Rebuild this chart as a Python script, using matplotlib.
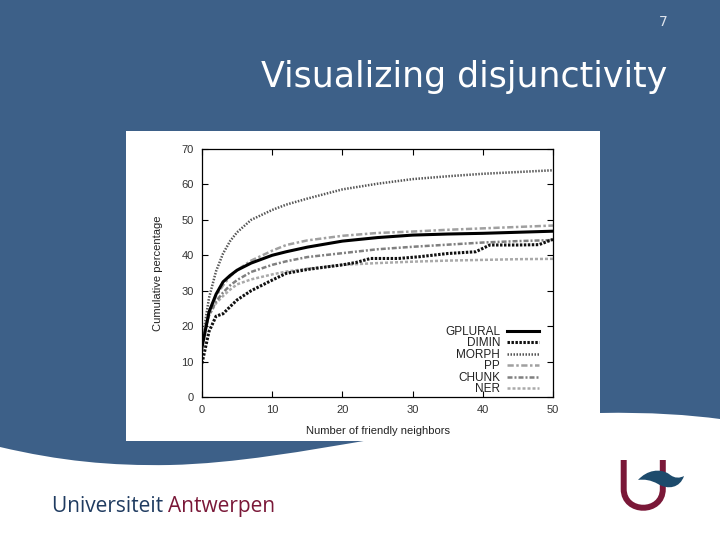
import numpy as np
import matplotlib

matplotlib.use("Agg")
import matplotlib.pyplot as plt
from matplotlib.path import Path
from matplotlib.patches import PathPatch, Rectangle

# ---- data ----
X = [0, 1, 2, 3, 4, 5, 7, 10, 12, 15, 20, 25, 30, 35, 40, 45, 50]
GPLURAL = [14, 24, 29, 32.5, 34.3, 35.8, 37.8, 40, 41, 42.3, 44, 45, 45.7, 46, 46.2, 46.5, 46.8]
MORPH = [15.5, 28, 35.5, 40.5, 44, 46.5, 50, 52.8, 54.3, 56, 58.6, 60.2, 61.5, 62.3, 63, 63.5, 64]
PP = [16, 24, 28.5, 31.5, 34, 35.8, 38.5, 41.3, 42.9, 44.2, 45.5, 46.3, 46.7, 47.2, 47.6, 48, 48.4]
CHUNK = [16, 23, 27, 29.5, 31.5, 33, 35.3, 37.3, 38.3, 39.5, 40.6, 41.7, 42.4, 43, 43.6, 44, 44.3]
NER = [17, 23, 26.5, 28.5, 30.3, 31.8, 33.2, 34.6, 35.4, 36.2, 37.3, 37.8, 38.2, 38.5, 38.7, 38.9, 39.0]
DIMIN_X = [0, 1, 2, 3, 4, 5, 7, 10, 12, 15, 20, 22, 24, 28, 31, 35, 39, 41, 45, 48, 50]
DIMIN = [9.5, 18.5, 22.8, 23.5, 25.5, 27.4, 30, 33, 34.9, 36, 37.3, 38, 39.1, 39.1, 39.6, 40.5, 41, 42.9, 42.9, 43, 44.5]

X_TICKS = [0, 10, 20, 30, 40, 50]
Y_TICKS = [0, 10, 20, 30, 40, 50, 60, 70]

SLIDE_BLUE = "#3d6088"
MAROON = "#7a1838"
NAVY = "#1f3b60"

fig = plt.figure(figsize=(7.2, 5.4), dpi=100)
fig.patch.set_facecolor(SLIDE_BLUE)

# background layer in pixel coords (y downward)
bg = fig.add_axes([0, 0, 1, 1])
bg.set_xlim(0, 720)
bg.set_ylim(540, 0)
bg.axis("off")

# white lower part under the blue swoosh
verts = [
    (0, 447), (60, 461), (110, 466), (170, 465),
    (300, 462), (450, 415), (600, 413),
    (650, 412), (690, 415), (720, 419),
    (720, 540), (0, 540), (0, 447),
]
codes = [Path.MOVETO] + [Path.CURVE4] * 9 + [Path.LINETO, Path.LINETO, Path.CLOSEPOLY]
bg.add_patch(PathPatch(Path(verts, codes), facecolor="white", edgecolor="none"))

# white box holding the chart
bg.add_patch(Rectangle((126, 131), 474, 310, facecolor="white", edgecolor="none"))

bg.text(667, 77, "Visualizing disjunctivity", color="white", fontsize=25,
        family="DejaVu Sans", ha="right", va="center")
bg.text(668, 22, "7", color="#dde3ec", fontsize=10, ha="right", va="center")

# footer
t1 = bg.text(52, 512, "Universiteit ", color=NAVY, fontsize=15, family="Open Sans",
             ha="left", va="baseline")
fig.canvas.draw()
bb = t1.get_window_extent()
bg.text(52 + bb.width, 512, "Antwerpen", color=MAROON, fontsize=15, family="Open Sans",
        ha="left", va="baseline")

# logo: U + wave
u = Path([(623.7, 460), (623.7, 489), (623.7, 514), (662.8, 514), (662.8, 489), (662.8, 460)],
         [Path.MOVETO, Path.LINETO, Path.CURVE4, Path.CURVE4, Path.CURVE4, Path.LINETO])
bg.add_patch(PathPatch(u, facecolor="none", edgecolor=MAROON, lw=4.3, capstyle="butt"))
wave = Path([(638, 480), (647, 470), (660, 468), (669, 474),
             (675, 479), (680, 478), (684, 476),
             (680, 488), (668, 490), (658, 484),
             (651, 480), (644, 479), (638, 480)],
            [Path.MOVETO] + [Path.CURVE4] * 12)
bg.add_patch(PathPatch(wave, facecolor="#1d4b6c", edgecolor="none"))

# ---- the chart ----
ax = fig.add_axes([202 / 720, 1 - 397 / 540, 351 / 720, 248 / 540])
ax.set_facecolor("white")

ax.plot(X, MORPH, color="#555555", lw=1.8, ls=(0, (0.6, 0.6)), label="MORPH")
ax.plot(X, NER, color="#aaaaaa", lw=1.8, ls=(0, (1.2, 0.8)), label="NER")
ax.plot(X, CHUNK, color="#808080", lw=1.8, ls=(0, (2, 0.8, 0.8, 0.8)), label="CHUNK")
ax.plot(X, PP, color="#a0a0a0", lw=1.8, ls=(0, (2.5, 1, 1, 1)), label="PP")
ax.plot(DIMIN_X, DIMIN, color="#111111", lw=2.2, ls=(0, (0.8, 0.5)), label="DIMIN")
ax.plot(X, GPLURAL, color="black", lw=2.2, label="GPLURAL")

ax.set_xlim(0, 50)
ax.set_ylim(0, 70)
ax.set_xticks(X_TICKS)
ax.set_yticks(Y_TICKS)
ax.tick_params(direction="in", length=4, width=0.8, top=True, right=True,
               labelsize=8, labelcolor="#333333", pad=6)
for lab in ax.get_xticklabels() + ax.get_yticklabels():
    lab.set_family("Liberation Sans")
for s in ax.spines.values():
    s.set_linewidth(0.9)

ax.set_xlabel("Number of friendly neighbors", fontsize=8, family="Liberation Sans",
              color="#222222", labelpad=8)
ax.set_ylabel("Cumulative percentage", fontsize=8, family="Liberation Sans",
              color="#222222", labelpad=13)

handles, labels = ax.get_legend_handles_labels()
order = ["GPLURAL", "DIMIN", "MORPH", "PP", "CHUNK", "NER"]
hmap = dict(zip(labels, handles))
leg = ax.legend([hmap[k] for k in order], order, loc="lower right",
                bbox_to_anchor=(0.977, -0.016), frameon=False, markerfirst=False,
                borderpad=0, handlelength=2.7, handletextpad=0.6, labelspacing=-0.05,
                prop={"family": "Liberation Sans", "size": 8.5})
for t in leg.get_texts():
    t.set_color("#222222")

fig.savefig("out.png", dpi=100, facecolor=fig.get_facecolor())
